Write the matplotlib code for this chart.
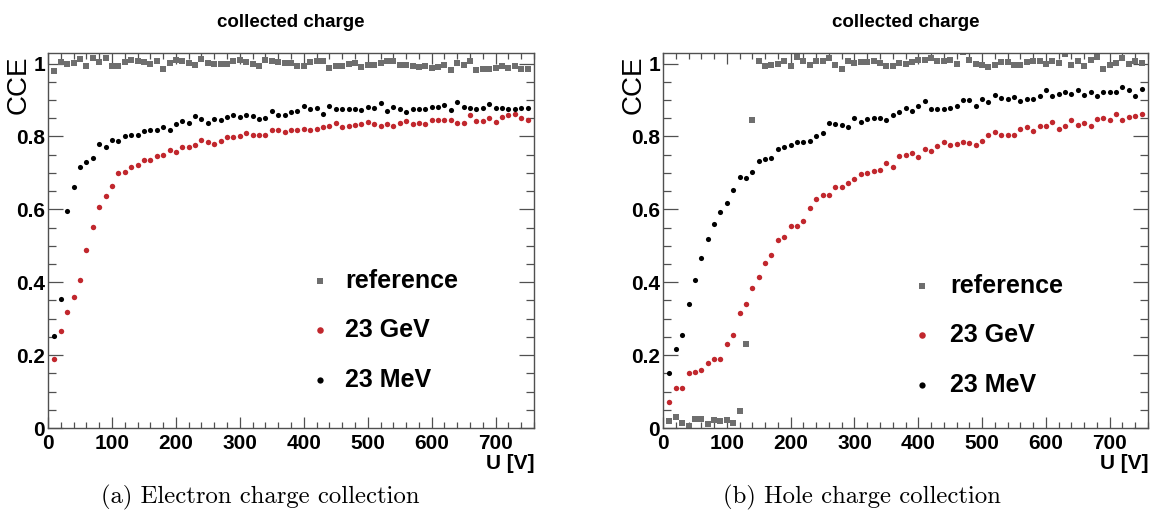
import numpy as np
import matplotlib
matplotlib.use("Agg")
import matplotlib.pyplot as plt
from matplotlib.ticker import MultipleLocator, FuncFormatter

# Bias voltage scan points [V]
voltage = np.arange(10, 751, 10)

# Electron charge collection (left panel)
e_reference = [0.979, 1.004, 0.999, 1.002, 1.012, 0.992, 1.015, 1.005, 1.015, 0.993,
               0.993, 1.005, 1.011, 1.008, 1.005, 0.999, 1.007, 0.985, 1.002, 1.010,
               1.008, 1.002, 0.996, 1.013, 1.002, 0.999, 0.999, 0.999, 1.008, 1.011,
               1.004, 0.999, 0.993, 1.011, 1.008, 1.004,
               1.002, 1.002, 0.993, 0.994, 1.004, 1.008, 1.008, 0.987, 0.994, 0.994,
               0.999, 1.002, 0.990, 0.996, 0.996, 1.002, 1.008, 1.006, 0.996, 0.996,
               0.993, 0.990, 0.993, 0.987, 0.990, 0.996, 0.983, 1.002, 0.997, 1.008,
               0.983, 0.985, 0.985, 0.988, 0.992, 0.987, 0.994, 0.985, 0.985]
e_23gev = [0.188, 0.267, 0.317, 0.360, 0.405, 0.488, 0.552, 0.606, 0.637, 0.663,
           0.700, 0.702, 0.716, 0.722, 0.736, 0.736, 0.746, 0.748, 0.762, 0.757,
           0.771, 0.771, 0.777, 0.791, 0.786, 0.778, 0.787, 0.798, 0.798, 0.800,
           0.809, 0.803, 0.803, 0.803, 0.818, 0.818,
           0.812, 0.817, 0.818, 0.821, 0.817, 0.821, 0.826, 0.828, 0.837, 0.827,
           0.828, 0.832, 0.833, 0.841, 0.834, 0.828, 0.834, 0.828, 0.837, 0.842,
           0.834, 0.837, 0.833, 0.846, 0.846, 0.846, 0.846, 0.838, 0.837, 0.858,
           0.842, 0.842, 0.851, 0.839, 0.853, 0.858, 0.862, 0.850, 0.846]
e_23mev = [0.253, 0.355, 0.595, 0.660, 0.716, 0.731, 0.741, 0.780, 0.771, 0.789,
           0.787, 0.801, 0.803, 0.804, 0.816, 0.817, 0.819, 0.825, 0.818, 0.835,
           0.842, 0.837, 0.855, 0.849, 0.836, 0.849, 0.846, 0.853, 0.860, 0.853,
           0.858, 0.856, 0.847, 0.851, 0.871, 0.859,
           0.860, 0.868, 0.870, 0.884, 0.874, 0.878, 0.862, 0.883, 0.875, 0.875,
           0.874, 0.875, 0.873, 0.880, 0.878, 0.891, 0.870, 0.880, 0.874, 0.867,
           0.874, 0.874, 0.874, 0.880, 0.882, 0.887, 0.873, 0.894, 0.880, 0.878,
           0.875, 0.878, 0.889, 0.878, 0.878, 0.875, 0.875, 0.877, 0.877]

# Hole charge collection (right panel)
h_reference = [0.020, 0.031, 0.013, 0.006, 0.025, 0.025, 0.010, 0.022, 0.018, 0.022,
               0.015, 0.048, 0.230,
               0.844, 1.008, 0.993, 0.996, 1.000, 1.007, 0.993, 1.018, 1.007, 0.996,
               1.008, 1.008, 1.015, 0.995, 0.985, 1.008, 1.002, 1.005, 1.004, 1.008,
               1.002, 0.993, 0.994, 1.002, 0.999, 1.005, 1.011, 1.011, 1.014, 1.006,
               1.008, 1.011, 1.000, 1.031, 1.011, 1.000, 0.997, 0.990, 0.997, 1.005,
               1.005, 0.997, 0.997, 1.005, 1.006, 1.008, 0.999, 1.006, 1.002, 1.027,
               0.997, 1.006, 0.994, 1.011, 1.017, 0.986, 0.995, 1.002, 1.014, 0.999,
               1.008, 1.002]
h_23gev = [0.070, 0.109, 0.111, 0.150, 0.153, 0.159, 0.178, 0.189, 0.189, 0.231,
           0.255, 0.315, 0.340, 0.383, 0.414, 0.452, 0.476, 0.517, 0.524, 0.553,
           0.553, 0.568, 0.603, 0.629, 0.640, 0.638, 0.660, 0.661, 0.671, 0.684,
           0.697, 0.699, 0.706,
           0.707, 0.727, 0.715, 0.745, 0.750, 0.755, 0.743, 0.766, 0.761, 0.773,
           0.784, 0.776, 0.780, 0.784, 0.782, 0.776, 0.787, 0.805, 0.811, 0.803,
           0.805, 0.805, 0.820, 0.825, 0.816, 0.828, 0.828, 0.839, 0.820, 0.828,
           0.846, 0.832, 0.837, 0.830, 0.848, 0.850, 0.846, 0.862, 0.846, 0.853,
           0.857, 0.861]
h_23mev = [0.150, 0.218, 0.255, 0.340, 0.405, 0.466, 0.519, 0.561, 0.594, 0.618,
           0.653,
           0.688, 0.686, 0.703, 0.733, 0.739, 0.742, 0.765, 0.770, 0.777, 0.784,
           0.785, 0.787, 0.800, 0.809, 0.838, 0.834, 0.832, 0.826, 0.850, 0.841,
           0.848, 0.850,
           0.850, 0.844, 0.860, 0.867, 0.878, 0.869, 0.883, 0.896, 0.874, 0.874,
           0.876, 0.878, 0.883, 0.899, 0.899, 0.883, 0.903, 0.895, 0.913, 0.906,
           0.904, 0.908, 0.896, 0.904, 0.904, 0.910, 0.927, 0.912, 0.916, 0.923,
           0.917, 0.928, 0.914, 0.923, 0.910, 0.922, 0.922, 0.922, 0.935, 0.927,
           0.912, 0.930]

series_labels = ["reference", "23 GeV", "23 MeV"]
titles = ["collected charge", "collected charge"]
captions = ["(a) Electron charge collection", "(b) Hole charge collection"]

SANS = ["Liberation Sans", "DejaVu Sans"]
NARROW = ["Liberation Sans Narrow", "Liberation Sans", "DejaVu Sans"]
GRAY = "#6e6e6e"
RED = "#c1272d"
BLACK = "#000000"
AXIS = "#505050"

W, H = 1155, 517
fig = plt.figure(figsize=(W / 100, H / 100), dpi=100)
fig.patch.set_facecolor("white")


def px_box(x0, x1, ytop, ybot):
    return [x0 / W, 1 - ybot / H, (x1 - x0) / W, (ybot - ytop) / H]


panels = [
    dict(box=px_box(48, 534, 53, 428), data=(e_reference, e_23gev, e_23mev),
         leg=(0.560, 0.611, [0.392, 0.261, 0.128]), cap_x=260 / W),
    dict(box=px_box(663, 1148, 53, 428), data=(h_reference, h_23gev, h_23mev),
         leg=(0.534, 0.592, [0.379, 0.248, 0.115]), cap_x=862 / W),
]

styles = [
    dict(marker="s", color=GRAY, ms=4.0),
    dict(marker="o", color=RED, ms=3.9),
    dict(marker="o", color=BLACK, ms=3.7),
]

for i, p in enumerate(panels):
    ax = fig.add_axes(p["box"])
    for vals, st in zip(p["data"], styles):
        ax.plot(voltage, vals, linestyle="none", marker=st["marker"],
                markersize=st["ms"], color=st["color"], markeredgewidth=0)

    ax.set_xlim(0, 760)
    ax.set_ylim(0, 1.029)
    ax.xaxis.set_major_locator(MultipleLocator(100))
    ax.xaxis.set_minor_locator(MultipleLocator(20))
    ax.yaxis.set_major_locator(MultipleLocator(0.2))
    ax.yaxis.set_minor_locator(MultipleLocator(0.05))
    ax.yaxis.set_major_formatter(FuncFormatter(lambda v, _: f"{v:g}"))
    ax.xaxis.set_major_formatter(FuncFormatter(lambda v, _: f"{v:g}"))

    for sp in ax.spines.values():
        sp.set_color(AXIS)
        sp.set_linewidth(1.0)
    ax.tick_params(axis="both", which="both", direction="in", top=True,
                   right=True, color=AXIS, width=0.9)
    ax.tick_params(axis="x", which="major", length=8, pad=4)
    ax.tick_params(axis="x", which="minor", length=4.3)
    ax.tick_params(axis="y", which="major", length=11, pad=2)
    ax.tick_params(axis="y", which="minor", length=5.5)
    for lab in ax.get_xticklabels() + ax.get_yticklabels():
        lab.set_family(SANS)
        lab.set_fontweight("bold")
        lab.set_fontsize(15)

    ax.set_title(titles[i], family=SANS, fontweight="bold", fontsize=13.5,
                 pad=19)
    ax.text(-0.060, 0.915, "CCE", transform=ax.transAxes, rotation=90,
            ha="center", va="center", family=NARROW, fontsize=20)
    ax.text(1.0, -0.095, "U [V]", transform=ax.transAxes, ha="right",
            va="center", family=SANS, fontweight="bold", fontsize=15)

    mx, tx, rows = p["leg"]
    for st, lab, ry in zip(styles, series_labels, rows):
        ax.plot([mx], [ry], transform=ax.transAxes, linestyle="none",
                marker=st["marker"], markersize=st["ms"] + 0.8,
                color=st["color"], markeredgewidth=0, clip_on=False)
        ax.text(tx, ry, lab, transform=ax.transAxes, ha="left", va="center",
                family=SANS, fontweight="bold", fontsize=18)

    fig.text(p["cap_x"], 1 - 497 / H, captions[i], ha="center", va="center",
             family=["cmr10", "DejaVu Serif"], fontsize=17.8)

fig.savefig("out.png", dpi=100, facecolor="white")
